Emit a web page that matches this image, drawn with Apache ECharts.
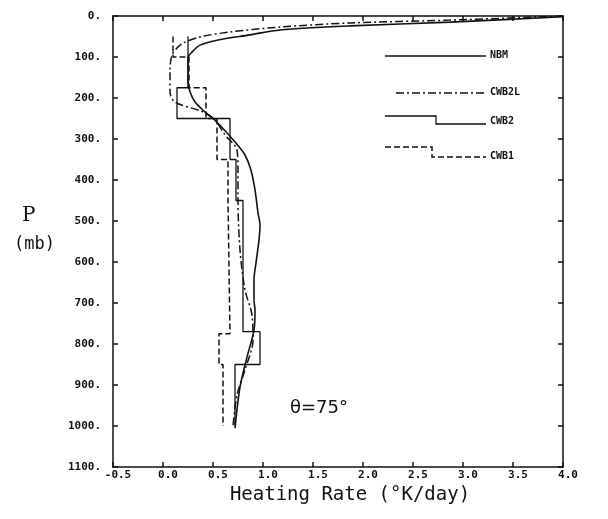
<!DOCTYPE html>
<html>
<head>
<meta charset="utf-8">
<script src="https://cdn.jsdelivr.net/npm/echarts@6/dist/echarts.min.js"></script>
<style>
  html, body { margin: 0; padding: 0; background: #fff; }
  #chart { width: 608px; height: 519px; }
</style>
</head>
<body>
<div id="chart"></div>
<script>
// NBM: smooth solid profile (pressure mb, heating rate K/day)
var nbmPressure = [2, 15, 24, 34, 46, 59, 71, 88, 102, 127, 161, 185, 210, 234, 259, 310, 339, 376, 424, 480, 510, 546, 602, 644, 693, 717, 766, 832, 905, 1005]
var nbmRate = [4.0, 2.87, 1.87, 1.17, 0.87, 0.54, 0.37, 0.29, 0.25, 0.25, 0.25, 0.27, 0.32, 0.42, 0.54, 0.73, 0.82, 0.88, 0.92, 0.95, 0.97, 0.96, 0.93, 0.91, 0.91, 0.92, 0.91, 0.84, 0.77, 0.72]

// CWB2L: dash-dot profile
var cwb2lPressure = [0, 10, 17, 27, 39, 51, 66, 78, 95, 132, 185, 210, 234, 254, 290, 327, 376, 449, 571, 668, 729, 790, 863, 924, 1000]
var cwb2lRate = [4.0, 2.87, 1.87, 1.17, 0.67, 0.37, 0.2, 0.14, 0.09, 0.07, 0.07, 0.12, 0.40, 0.52, 0.62, 0.74, 0.75, 0.75, 0.77, 0.82, 0.89, 0.90, 0.82, 0.74, 0.70]

// layer models: boundaries (mb) and one rate per layer
var cwb2Levels = [50, 100, 175, 250, 350, 450, 770, 850, 1000]
var cwb2Rate = [0.25, 0.25, 0.14, 0.67, 0.73, 0.80, 0.97, 0.72]
var cwb1Levels = [50, 100, 175, 250, 350, 450, 775, 850, 1000]
var cwb1Rate = [0.10, 0.26, 0.43, 0.54, 0.65, 0.67, 0.56, 0.60]

var xTicks = [-0.5, 4.0, 0.5]   // min, max, step
var yTicks = [0, 1100, 100]

function pairs(rates, pres) {
  return rates.map(function(r, i) { return [r, pres[i]] })
}
function steps(levels, rates) {
  var out = []
  rates.forEach(function(r, i) {
    out.push([r, levels[i]])
    out.push([r, levels[i + 1]])
  })
  return out
}

var ink = '#111'
var mono = '"DejaVu Sans Mono", monospace'

function frameAxis(pos, extra) {
  var ax = {
    type: 'value',
    position: pos,
    axisLine: { show: true, onZero: false, lineStyle: { color: ink, width: 1.5 } },
    axisTick: { show: true, inside: true, length: 5, lineStyle: { color: ink, width: 1.5 } },
    axisLabel: { show: false },
    splitLine: { show: false }
  }
  return Object.assign(ax, extra)
}

var chart = echarts.init(document.getElementById('chart'))
var option = {
  backgroundColor: '#fff',
  animation: false,
  grid: { left: 113, right: 45, top: 16, bottom: 52 },
  xAxis: [
    frameAxis('bottom', {
      min: xTicks[0], max: xTicks[1], interval: xTicks[2],
      axisLabel: {
        color: ink, fontFamily: mono, fontWeight: 'bold', fontSize: 11, margin: 3,
        padding: [0, 0, 0, 10],
        formatter: function(v) { return v.toFixed(1) }
      },
      name: 'Heating Rate (°K/day)',
      nameLocation: 'middle',
      nameGap: 15,
      nameTextStyle: { color: ink, fontFamily: mono, fontSize: 19, padding: [0, 0, 0, 24] }
    }),
    frameAxis('top', { min: xTicks[0], max: xTicks[1], interval: xTicks[2] })
  ],
  yAxis: [
    frameAxis('left', {
      inverse: true,
      min: yTicks[0], max: yTicks[1], interval: yTicks[2],
      axisLabel: {
        color: ink, fontFamily: mono, fontWeight: 'bold', fontSize: 11, margin: 12,
        formatter: function(v) { return v + '.' }
      }
    }),
    frameAxis('right', { inverse: true, min: yTicks[0], max: yTicks[1], interval: yTicks[2] })
  ],
  series: [
    {
      name: 'NBM', type: 'line', smooth: 0.3, showSymbol: false, clip: true,
      data: pairs(nbmRate, nbmPressure),
      lineStyle: { color: ink, width: 1.6 }
    },
    {
      name: 'CWB2L', type: 'line', smooth: 0.3, showSymbol: false, clip: true,
      data: pairs(cwb2lRate, cwb2lPressure),
      lineStyle: { color: ink, width: 1.5, type: [8, 3, 2, 3] }
    },
    {
      name: 'CWB2', type: 'line', showSymbol: false, clip: true,
      data: steps(cwb2Levels, cwb2Rate),
      lineStyle: { color: ink, width: 1.3 }
    },
    {
      name: 'CWB1', type: 'line', showSymbol: false, clip: true,
      data: steps(cwb1Levels, cwb1Rate),
      lineStyle: { color: ink, width: 1.5, type: [6, 3] }
    }
  ],
  graphic: [
    // legend keys
    { type: 'polyline', shape: { points: [[385, 56], [486, 56]] }, style: { stroke: ink, lineWidth: 1.6, fill: null } },
    { type: 'polyline', shape: { points: [[396, 93], [486, 93]] }, style: { stroke: ink, lineWidth: 1.5, lineDash: [8, 3, 2, 3], fill: null } },
    { type: 'polyline', shape: { points: [[385, 116], [436, 116], [436, 124], [486, 124]] }, style: { stroke: ink, lineWidth: 1.3, fill: null } },
    { type: 'polyline', shape: { points: [[385, 147], [432, 147], [432, 157], [486, 157]] }, style: { stroke: ink, lineWidth: 1.5, lineDash: [6, 3], fill: null } },
    { type: 'text', left: 490, top: 50, style: { text: 'NBM', fill: ink, font: 'bold 10px ' + mono } },
    { type: 'text', left: 490, top: 87, style: { text: 'CWB2L', fill: ink, font: 'bold 10px ' + mono } },
    { type: 'text', left: 490, top: 116, style: { text: 'CWB2', fill: ink, font: 'bold 10px ' + mono } },
    { type: 'text', left: 490, top: 151, style: { text: 'CWB1', fill: ink, font: 'bold 10px ' + mono } },
    // axis name and annotation
    { type: 'text', left: 22, top: 206, style: { text: 'P', fill: ink, font: '20px "DejaVu Serif", serif' } },
    { type: 'text', left: 14, top: 236, style: { text: '(mb)', fill: ink, font: '17px ' + mono } },
    { type: 'text', left: 290, top: 399, style: { text: 'θ=75°', fill: ink, font: '18px "DejaVu Sans", sans-serif' } }
  ]
}
chart.setOption(option)
</script>
</body>
</html>
